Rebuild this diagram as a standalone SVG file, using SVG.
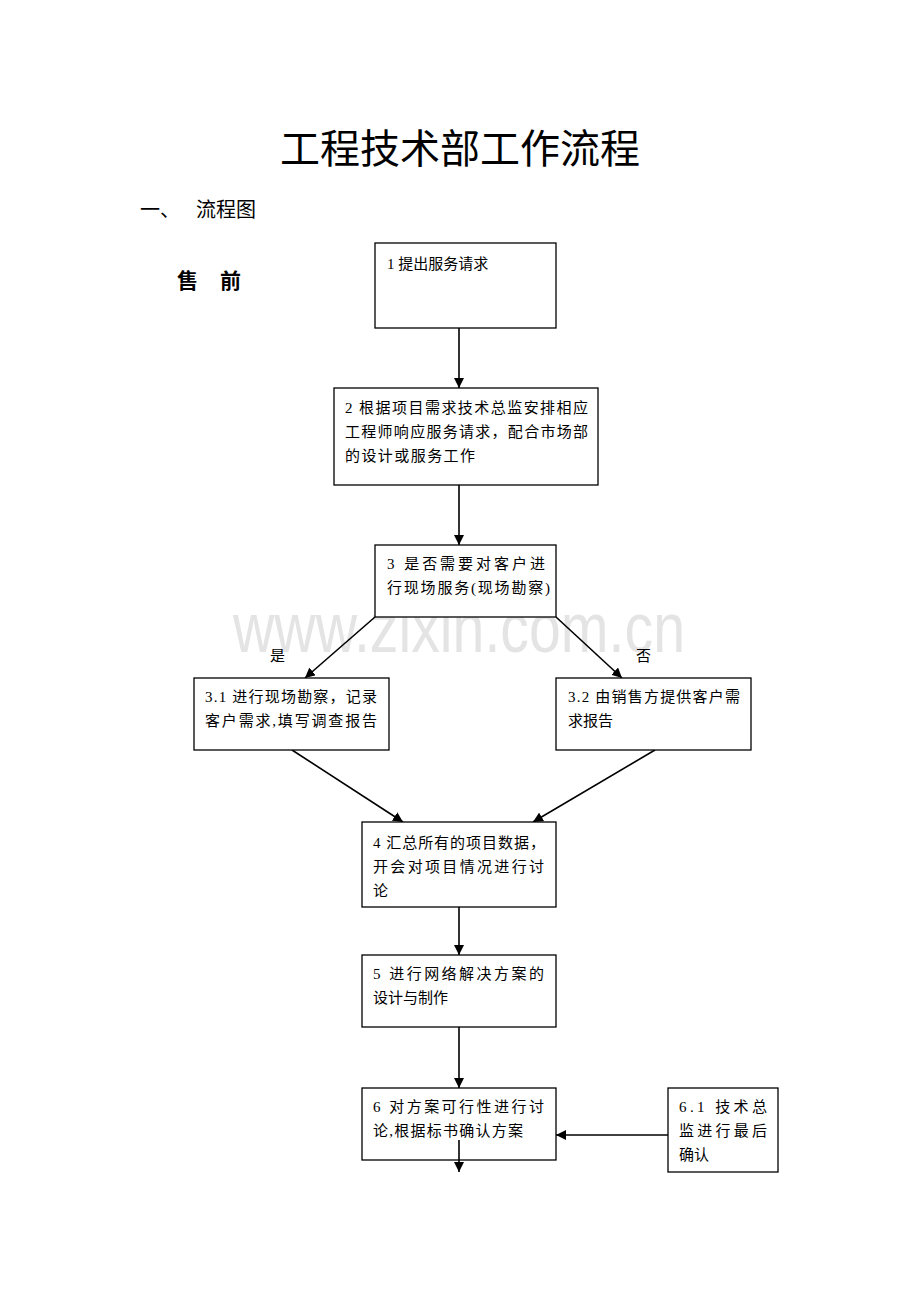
<svg xmlns="http://www.w3.org/2000/svg" width="920" height="1302" viewBox="0 0 920 1302">
<style>
.t{font-family:"Liberation Serif","Noto Sans CJK SC",serif;font-size:15px;fill:#000}
.box{fill:#fff;stroke:#000;stroke-width:1.3}
.ln{stroke:#000;stroke-width:1.6;fill:none}
</style>
<defs>
<marker id="ah" markerWidth="10" markerHeight="10" viewBox="0 0 10 10" refX="10" refY="5" orient="auto" markerUnits="userSpaceOnUse">
<path d="M0,0 L10,5 L0,10 Z" fill="#000"/>
</marker>
</defs>
<rect width="920" height="1302" fill="#fff"/>
<text x="460" y="163" text-anchor="middle" style="font-family:'Liberation Serif','Noto Sans CJK SC',serif;font-size:40px">工程技术部工作流程</text>
<text x="140" y="217" style="font-family:'Liberation Serif','Noto Sans CJK SC',serif;font-size:20px">一、</text>
<text x="196" y="217" style="font-family:'Liberation Serif','Noto Sans CJK SC',serif;font-size:20px">流程图</text>
<text x="177" y="288" style="font-family:'Liberation Serif','Noto Sans CJK SC',serif;font-size:21px;font-weight:bold">售</text>
<text x="220" y="288" style="font-family:'Liberation Serif','Noto Sans CJK SC',serif;font-size:21px;font-weight:bold">前</text>
<text x="233" y="652" textLength="452" lengthAdjust="spacingAndGlyphs" style="font-family:'Liberation Sans',sans-serif;font-size:70px;fill:#e4e4e4">www.zixin.com.cn</text>
<g id="connectors">
<line class="ln" x1="459" y1="328" x2="459" y2="388" marker-end="url(#ah)"/>
<line class="ln" x1="459" y1="485" x2="459" y2="545" marker-end="url(#ah)"/>
<line class="ln" x1="375" y1="617" x2="305" y2="678" marker-end="url(#ah)"/>
<line class="ln" x1="556" y1="617" x2="622" y2="678" marker-end="url(#ah)"/>
<line class="ln" x1="292" y1="750" x2="403" y2="822" marker-end="url(#ah)"/>
<line class="ln" x1="655" y1="750" x2="533" y2="822" marker-end="url(#ah)"/>
<line class="ln" x1="459" y1="907" x2="459" y2="955" marker-end="url(#ah)"/>
<line class="ln" x1="459" y1="1027" x2="459" y2="1088" marker-end="url(#ah)"/>
<line class="ln" x1="668" y1="1135" x2="556" y2="1135" marker-end="url(#ah)"/>
</g>
<text class="t" x="270" y="661">是</text>
<text class="t" x="636" y="661">否</text>
<g id="n1">
<rect class="box" x="375" y="243" width="181" height="85"/>
<text class="t" x="387" y="269">1 提出服务请求</text>
</g>
<g id="n2">
<rect class="box" x="334" y="388" width="264" height="97"/>
<text class="t" x="345" y="413" textLength="243" lengthAdjust="spacing">2 根据项目需求技术总监安排相应</text>
<text class="t" x="345" y="437" textLength="243" lengthAdjust="spacing">工程师响应服务请求，配合市场部</text>
<text class="t" x="345" y="461" textLength="130" lengthAdjust="spacing">的设计或服务工作</text>
</g>
<g id="n3">
<rect class="box" x="375" y="545" width="181" height="72"/>
<text class="t" x="387" y="569" textLength="158" lengthAdjust="spacing">3 是否需要对客户进</text>
<text class="t" x="387" y="593" textLength="163" lengthAdjust="spacing">行现场服务(现场勘察)</text>
</g>
<g id="n31">
<rect class="box" x="194" y="678" width="195" height="72"/>
<text class="t" x="205" y="702" textLength="172" lengthAdjust="spacing">3.1 进行现场勘察，记录</text>
<text class="t" x="205" y="726" textLength="172" lengthAdjust="spacing">客户需求,填写调查报告</text>
</g>
<g id="n32">
<rect class="box" x="556" y="678" width="195" height="72"/>
<text class="t" x="568" y="702" textLength="172" lengthAdjust="spacing">3.2 由销售方提供客户需</text>
<text class="t" x="568" y="726">求报告</text>
</g>
<g id="n4">
<rect class="box" x="362" y="822" width="194" height="85"/>
<text class="t" x="373" y="848" textLength="172" lengthAdjust="spacing">4 汇总所有的项目数据，</text>
<text class="t" x="373" y="872" textLength="171" lengthAdjust="spacing">开会对项目情况进行讨</text>
<text class="t" x="373" y="896">论</text>
</g>
<g id="n5">
<rect class="box" x="362" y="955" width="194" height="72"/>
<text class="t" x="373" y="979" textLength="171" lengthAdjust="spacing">5 进行网络解决方案的</text>
<text class="t" x="373" y="1003">设计与制作</text>
</g>
<g id="n6">
<rect class="box" x="362" y="1088" width="194" height="72"/>
<text class="t" x="373" y="1112" textLength="171" lengthAdjust="spacing">6 对方案可行性进行讨</text>
<text class="t" x="373" y="1136" textLength="150" lengthAdjust="spacing">论,根据标书确认方案</text>
<line class="ln" x1="459" y1="1140" x2="459" y2="1172" marker-end="url(#ah)"/>
</g>
<g id="n61">
<rect class="box" x="668" y="1088" width="110" height="84"/>
<text class="t" x="679" y="1112" textLength="88" lengthAdjust="spacing">6.1 技术总</text>
<text class="t" x="679" y="1136" textLength="88" lengthAdjust="spacing">监进行最后</text>
<text class="t" x="679" y="1160">确认</text>
</g>
</svg>
